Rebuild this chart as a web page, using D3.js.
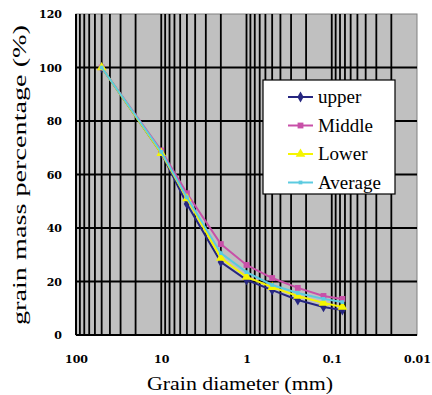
<!DOCTYPE html>
<html><head><meta charset="utf-8">
<script src="https://cdn.jsdelivr.net/npm/d3@7"></script>
<style>body{margin:0;background:#fff}svg{display:block}</style>
</head><body>
<script>
const diameters = [50, 10, 5, 2, 1, 0.5, 0.25, 0.125, 0.075];
const upper   = [100, 68, 49, 27.3, 20.6, 16.8, 13.1, 10.5, 9.3];
const middle  = [100, 69, 53, 34, 26.2, 21.3, 17.6, 14.6, 13.5];
const lower   = [100, 68, 51, 28.8, 21.7, 17.9, 14.6, 12.0, 10.5];
const average = [100, 68.5, 51.5, 30.6, 23.5, 18.7, 15.7, 13.5, 12.3];
const seriesNames = ["upper", "Middle", "Lower", "Average"];
const xTickLabels = ["100", "10", "1", "0.1", "0.01"];
const xTickValues = [100, 10, 1, 0.1, 0.01];
const yTickValues = [0, 20, 40, 60, 80, 100, 120];

const colors = ["#262680", "#c850a8", "#f5f500", "#5ccbe0"];
const symbols = [d3.symbolDiamond, d3.symbolSquare, d3.symbolTriangle, d3.symbolSquare];
const symSizes = [34, 34, 40, 14];
const allSeries = [upper, middle, lower, average];

const W = 432, H = 395;
const L = 76, R = 417, T = 14, B = 335;
const svg = d3.select("body").append("svg").attr("width", W).attr("height", H);

const x = d3.scaleLog().domain([100, 0.01]).range([L, R]);
const y = d3.scaleLinear().domain([0, 120]).range([B, T]);

svg.append("rect").attr("x", L).attr("y", T).attr("width", R - L).attr("height", B - T)
  .attr("fill", "#c0c0c0").attr("stroke", "#808080").attr("stroke-width", 1);

// vertical grid
const minor = [];
[0.01, 0.1, 1, 10].forEach(d => { for (let k = 1; k <= 9; k++) minor.push(d * k); });
svg.append("g").selectAll("line").data(minor.filter(v => v > 0.01)).join("line")
  .attr("x1", d => x(d)).attr("x2", d => x(d)).attr("y1", T).attr("y2", B)
  .attr("stroke", "#000").attr("stroke-width", 1.8);

// horizontal grid
svg.append("g").selectAll("line").data(yTickValues.filter(v => v > 0 && v < 120)).join("line")
  .attr("x1", L).attr("x2", R).attr("y1", d => y(d)).attr("y2", d => y(d))
  .attr("stroke", "#000").attr("stroke-width", 1.8);

// axes lines
svg.append("line").attr("x1", L).attr("x2", L).attr("y1", T).attr("y2", B).attr("stroke", "#000").attr("stroke-width", 2);
svg.append("line").attr("x1", L).attr("x2", R).attr("y1", B).attr("y2", B).attr("stroke", "#000").attr("stroke-width", 2);

// axes via d3
const yAxis = d3.axisLeft(y).tickValues(yTickValues).tickSize(0).tickPadding(14);
const gy = svg.append("g").attr("transform", `translate(${L},0)`).call(yAxis);
gy.select(".domain").remove();
gy.selectAll("text").attr("font-family", "'DejaVu Serif', serif").attr("font-size", 11).attr("font-weight", "bold").attr("fill", "#000");

const xAxis = d3.axisBottom(x).tickValues(xTickValues).tickFormat((d, i) => xTickLabels[i]).tickSize(0).tickPadding(20);
const gx = svg.append("g").attr("transform", `translate(0,${B})`).call(xAxis);
gx.select(".domain").remove();
gx.selectAll("text").attr("font-family", "'DejaVu Serif', serif").attr("font-size", 11).attr("font-weight", "bold").attr("fill", "#000");

// titles
svg.append("text").attr("x", 240).attr("y", 390).attr("text-anchor", "middle")
  .attr("font-family", "'Liberation Serif', serif").attr("font-size", 18)
  .attr("textLength", 186).attr("lengthAdjust", "spacingAndGlyphs")
  .text("Grain diameter (mm)");
svg.append("text").attr("transform", "translate(26,175) rotate(-90)").attr("text-anchor", "middle")
  .attr("font-family", "'Liberation Serif', serif").attr("font-size", 18)
  .attr("textLength", 300).attr("lengthAdjust", "spacingAndGlyphs")
  .text("grain mass percentage (%)");

// series
const line = d3.line().x(d => x(d[0])).y(d => y(d[1]));
allSeries.forEach((s, i) => {
  const pts = diameters.map((d, j) => [d, s[j]]);
  const g = svg.append("g");
  g.append("path").datum(pts).attr("d", line).attr("fill", "none")
    .attr("stroke", colors[i]).attr("stroke-width", 2);
  g.selectAll("path.m").data(pts).join("path").attr("class", "m")
    .attr("transform", d => `translate(${x(d[0])},${y(d[1])})`)
    .attr("d", d3.symbol().type(symbols[i]).size(symSizes[i]))
    .attr("fill", colors[i]);
});

// legend
const lg = svg.append("g");
lg.append("rect").attr("x", 263).attr("y", 80).attr("width", 132).attr("height", 114)
  .attr("fill", "#fff").attr("stroke", "#000").attr("stroke-width", 1.2);
seriesNames.forEach((n, i) => {
  const yy = 97 + i * 28.5;
  lg.append("line").attr("x1", 288).attr("x2", 313).attr("y1", yy).attr("y2", yy)
    .attr("stroke", colors[i]).attr("stroke-width", 2);
  lg.append("path").attr("transform", `translate(300.5,${yy})`)
    .attr("d", d3.symbol().type(symbols[i]).size(symSizes[i])).attr("fill", colors[i]);
  lg.append("text").attr("x", 318).attr("y", yy + 6)
    .attr("font-family", "'Liberation Serif', serif").attr("font-size", 19).text(n);
});
</script>
</body></html>
